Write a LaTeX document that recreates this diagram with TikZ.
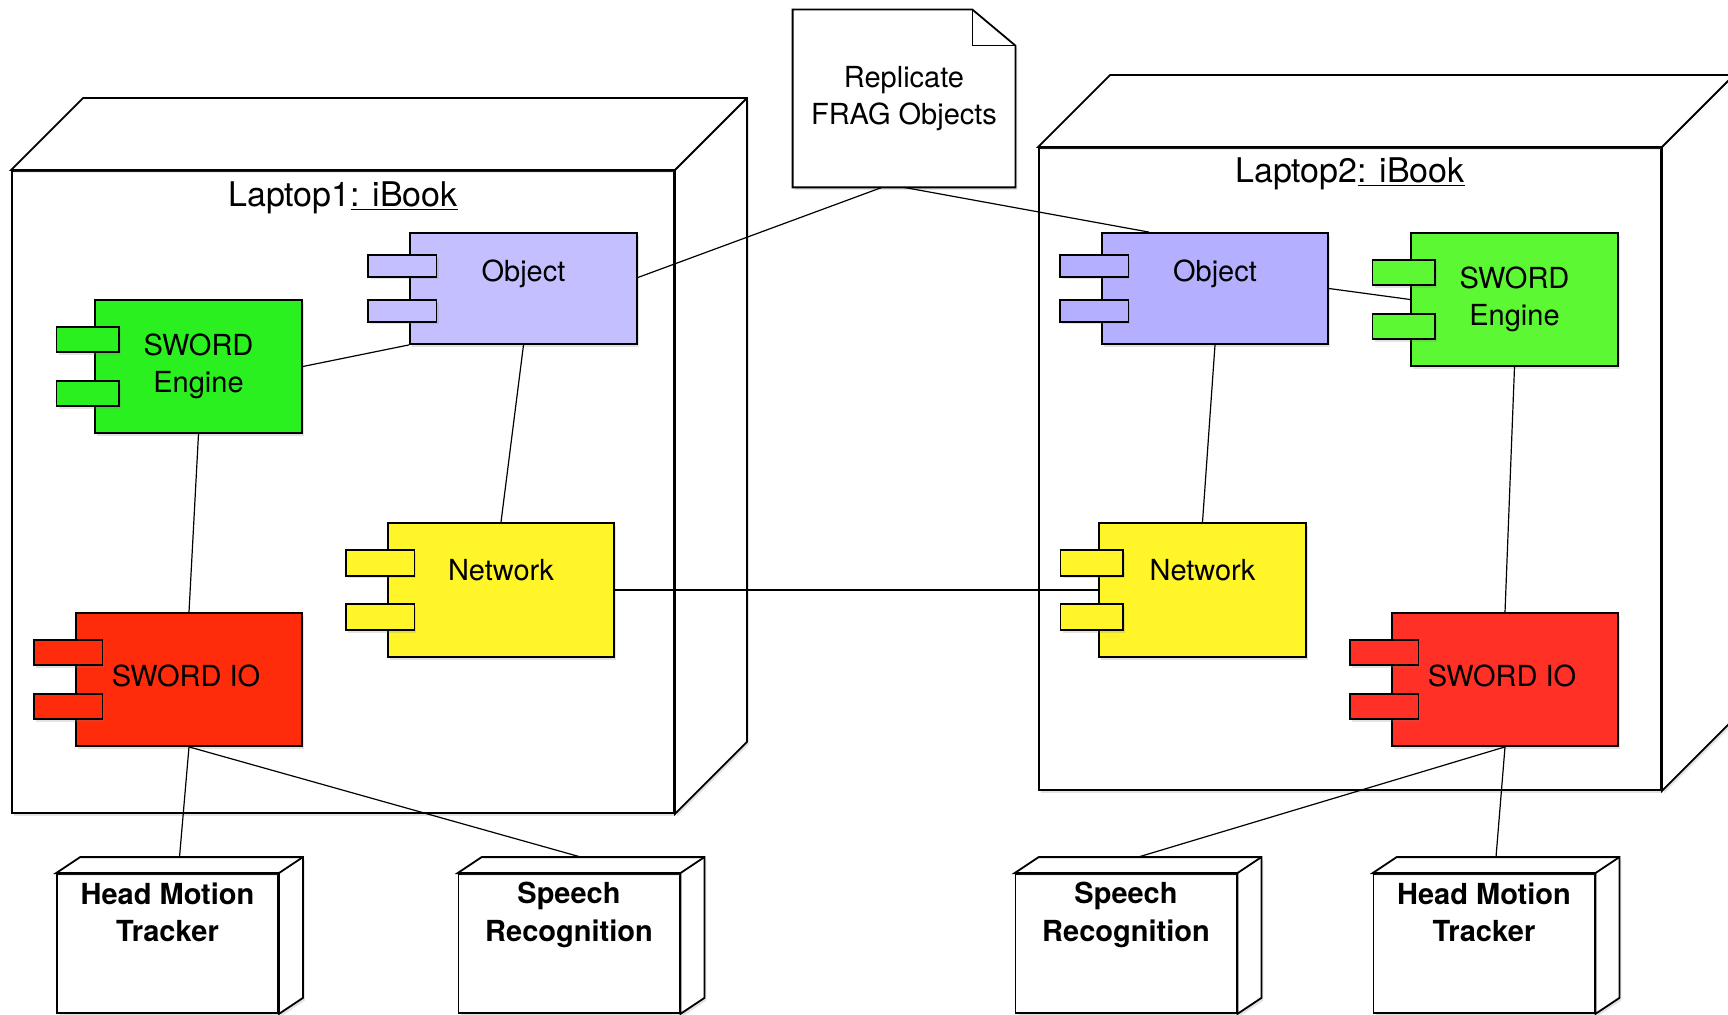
\documentclass[tikz,border=0pt]{standalone}
\usepackage{fontspec}
\setmainfont{TeX Gyre Heros}
\usetikzlibrary{calc,positioning,shadows}

\definecolor{objA}{RGB}{196,192,255}
\definecolor{objB}{RGB}{180,176,255}
\definecolor{engA}{RGB}{42,240,32}
\definecolor{engB}{RGB}{92,248,52}
\definecolor{ioA}{RGB}{255,44,12}
\definecolor{ioB}{RGB}{255,48,38}
\definecolor{netC}{RGB}{255,245,40}

\tikzset{
  softshadow/.style={drop shadow={shadow xshift=1pt,shadow yshift=-1.3pt,opacity=0.22}},
  comp/.style={draw,line width=0.9pt,softshadow,inner sep=0,font=\fontsize{14.5}{18.7}\selectfont,align=center},
  port/.style={draw,line width=0.9pt,softshadow},
  lbl/.style={inner sep=0,font=\fontsize{14.5}{18.7}\selectfont,align=center},
  laptop/.style={draw,fill=white,line width=0.9pt,softshadow,inner sep=0},
  device/.style={draw,fill=white,line width=0.9pt,softshadow,inner sep=0,minimum width=110.5pt,minimum height=69.5pt},
  link/.style={line width=0.6pt},
}

% two small plugs on the left side of a component
\newcommand{\compports}[2]{%
  \foreach \f in {0.3,0.7}
    \draw[port,fill=#2] let \p1=($(#1.north east)-(#1.south west)$) in
      ($(#1.north west)!\f!(#1.south west)+(-0.18*\x1,0.095*\y1)$) rectangle ++(0.3*\x1,-0.19*\y1);
}
% top and right face of a box node
\newcommand{\boxsides}[3]{%
  \draw[laptop] (#1.north west) -- ++(#2,#3) -- ($(#1.north east)+(#2,#3)$)
    -- ($(#1.south east)+(#2,#3)$) -- (#1.south east) -- (#1.north east) -- cycle;
  \draw[line width=0.9pt] (#1.north east) -- ++(#2,#3);
}

\begin{document}
\begin{tikzpicture}[x=0.5pt,y=-0.5pt]
    \useasboundingbox (0,0) rectangle (1728,1015);
    \clip (0,0) rectangle (1728,1015);

    \node[laptop,minimum width=331pt,minimum height=321pt] (lap1) at (343,492) {};
    \boxsides{lap1}{36pt}{36pt}
    \node[lbl,font=\fontsize{17}{20}\selectfont,below=5.5pt of lap1.north] {Laptop1\underline{: iBook}};

    \node[laptop,minimum width=311pt,minimum height=321pt] (lap2) at (1350,469) {};
    \boxsides{lap2}{36pt}{36pt}
    \node[lbl,font=\fontsize{17}{20}\selectfont,below=5pt of lap2.north] {Laptop2\underline{: iBook}};

    \node[minimum width=111pt,minimum height=88.5pt,inner sep=0] (note) at (904,98.5) {};
    \draw[laptop] (note.south west) -- (note.north west) -- ([xshift=-21.5pt]note.north east)
      -- ([yshift=-18pt]note.north east) -- (note.south east) -- cycle;
    \draw[line width=0.9pt] ([xshift=-21.5pt]note.north east) |- ([yshift=-18pt]note.north east);
    \node[lbl] at (note) {Replicate\\FRAG Objects};

    % Laptop1
    \node[comp,fill=objA,minimum width=113.5pt,minimum height=55.5pt] (obj1) at (523.5,288.5) {};
    \compports{obj1}{objA}
    \node[lbl,below=13.5pt of obj1.north] {Object};
    \node[comp,fill=engA,minimum width=103.5pt,minimum height=66.5pt] (eng1) at (198.5,366.5) {SWORD\\Engine};
    \compports{eng1}{engA}
    \node[comp,fill=netC,minimum width=113pt,minimum height=67pt] (net1) at (501,590) {};
    \compports{net1}{netC}
    \node[lbl,below=18.5pt of net1.north] {Network};
    \node[comp,fill=ioA,minimum width=113pt,minimum height=66.5pt] (io1) at (189,679.5) {};
    \compports{io1}{ioA}
    \node[lbl] at ([shift={(-1.5pt,2pt)}]io1.center) {SWORD IO};

    % Laptop2
    \node[comp,fill=objB,minimum width=113pt,minimum height=55.5pt] (obj2) at (1215,288.5) {};
    \compports{obj2}{objB}
    \node[lbl,below=13.5pt of obj2.north] {Object};
    \node[comp,fill=engB,minimum width=103.5pt,minimum height=66.5pt] (eng2) at (1514.5,299.5) {SWORD\\Engine};
    \compports{eng2}{engB}
    \node[comp,fill=netC,minimum width=103.5pt,minimum height=67pt] (net2) at (1202.5,590) {};
    \compports{net2}{netC}
    \node[lbl,below=18.5pt of net2.north] {Network};
    \node[comp,fill=ioB,minimum width=113pt,minimum height=66.5pt] (io2) at (1505,679.5) {};
    \compports{io2}{ioB}
    \node[lbl] at ([shift={(-1.5pt,2pt)}]io2.center) {SWORD IO};

    % devices
    \foreach \nm/\xc/\txt in {hmt1/167.5/Head Motion\\Tracker, sr1/569/Speech\\Recognition,
                              sr2/1126/Speech\\Recognition, hmt2/1484/Head Motion\\Tracker} {
      \node[device] (\nm) at (\xc,943.5) {};
      \boxsides{\nm}{12pt}{8pt}
      \node[lbl,font=\fontsize{14.5}{18.7}\selectfont\bfseries,below=4.5pt of \nm.north] {\txt};
    }

    \draw[link] ([yshift=5.5pt]obj1.east) -- ([xshift=-11pt]note.south);
    \draw[link] (note.south) -- ([xshift=-33pt]obj2.north);
    \draw[link] (eng1.east) -- (obj1.south west);
    \draw[link] (obj1.south) -- (net1.north);
    \draw[link] (eng1.south) -- (io1.north);
    \draw[link] (net1.east) -- (net2.west);
    \draw[link] (obj2.south) -- (net2.north);
    \draw[link] (obj2.east) -- (eng2.west);
    \draw[link] (eng2.south) -- (io2.north);
    \draw[link] (io1.south) -- ([shift={(6pt,8pt)}]hmt1.north);
    \draw[link] (io1.south) -- ([shift={(6pt,8pt)}]sr1.north);
    \draw[link] (io2.south) -- ([shift={(6pt,8pt)}]sr2.north);
    \draw[link] (io2.south) -- ([shift={(6pt,8pt)}]hmt2.north);
\end{tikzpicture}
\end{document}
